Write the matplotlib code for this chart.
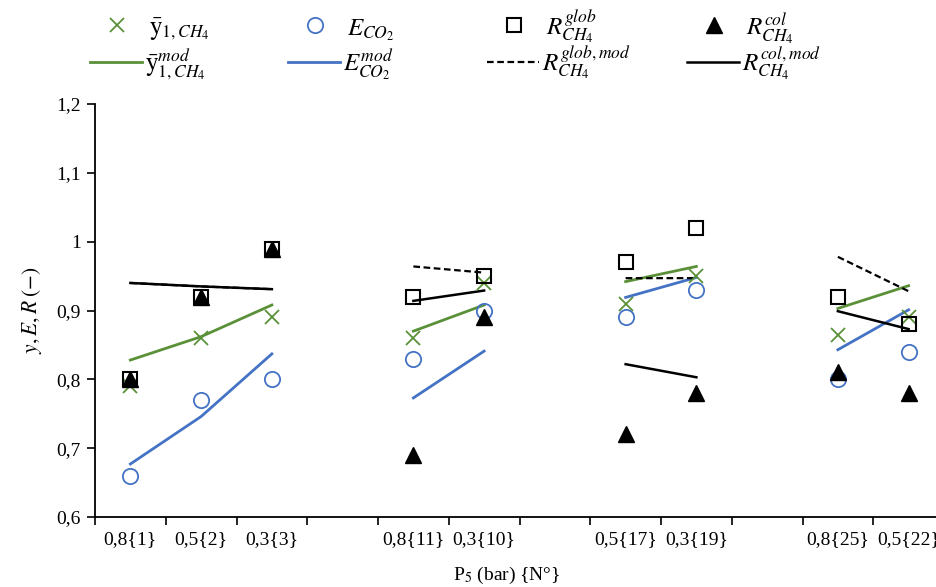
import numpy as np
import matplotlib
matplotlib.use("Agg")
import matplotlib.pyplot as plt
from matplotlib.lines import Line2D

plt.rcParams['font.family'] = ['Liberation Serif', 'DejaVu Serif']
plt.rcParams['mathtext.fontset'] = 'stix'

N = None
categories = ['0,8{1}', '0,5{2}', '0,3{3}', '', '0,8{11}', '0,3{10}', '',
              '0,5{17}', '0,3{19}', '', '0,8{25}', '0,5{22}']

y_exp    = [0.79, 0.86, 0.89, N, 0.86, 0.94, N, 0.91, 0.95, N, 0.865, 0.89]
E_exp    = [0.66, 0.77, 0.80, N, 0.83, 0.90, N, 0.89, 0.93, N, 0.80, 0.84]
Rglob    = [0.80, 0.92, 0.99, N, 0.92, 0.95, N, 0.97, 1.02, N, 0.92, 0.88]
Rcol     = [0.80, 0.92, 0.99, N, 0.69, 0.89, N, 0.72, 0.78, N, 0.81, 0.78]
y_mod    = [0.828, 0.862, 0.908, N, 0.870, 0.908, N, 0.942, 0.964, N, 0.903, 0.936]
E_mod    = [0.677, 0.746, 0.837, N, 0.773, 0.841, N, 0.919, 0.948, N, 0.843, 0.901]
Rglob_mod = [0.940, 0.935, 0.931, N, 0.964, 0.955, N, 0.947, 0.947, N, 0.978, 0.928]
Rcol_mod = [0.940, 0.935, 0.931, N, 0.914, 0.929, N, 0.822, 0.803, N, 0.899, 0.873]

legend_labels_exp = [r'$\mathrm{\bar{y}}_{1,CH_4}$', r'$E_{CO_2}$',
                     r'$R^{glob}_{CH_4}$', r'$R^{col}_{CH_4}$']
legend_labels_mod = [r'$\mathrm{\bar{y}}^{mod}_{1,CH_4}$', r'$E^{mod}_{CO_2}$',
                     r'$R^{glob,mod}_{CH_4}$', r'$R^{col,mod}_{CH_4}$']

def arr(v):
    return np.array([np.nan if a is None else a for a in v], dtype=float)

green = '#5a9138'
blue = '#4472C4'
W, H = 936, 587

fig = plt.figure(figsize=(W / 100, H / 100), dpi=100)
ax = fig.add_axes([95 / W, 70 / H, 849 / W, 413 / H])
x = np.arange(len(categories))

dash = (0, (3, 1.6))
line_styles = [dict(color=green, lw=2.0), dict(color=blue, lw=2.0),
               dict(color='black', lw=1.6, ls=dash), dict(color='black', lw=1.8)]
marker_styles = [dict(marker='x', ms=10, mew=1.3, color=green),
                 dict(marker='o', ms=11, mew=1.3, mfc='none', mec=blue),
                 dict(marker='s', ms=10, mew=1.5, mfc='none', mec='black'),
                 dict(marker='^', ms=11, color='black')]

for vals, st in zip([y_mod, E_mod, Rglob_mod, Rcol_mod], line_styles):
    ax.plot(x, arr(vals), **st)
for vals, st in zip([y_exp, E_exp, Rglob, Rcol], marker_styles):
    ax.plot(x, arr(vals), ls='none', **st)

ax.set_xlim(-0.5, len(categories) - 0.5)
ax.set_ylim(0.6, 1.2)
ax.set_yticks(np.arange(0.6, 1.21, 0.1))
ax.set_yticklabels(['0,6', '0,7', '0,8', '0,9', '1', '1,1', '1,2'], fontsize=14)
ax.set_xticks(np.arange(-0.5, len(categories), 1.0))
ax.set_xticklabels([])
ax.set_xticks(x, minor=True)
ax.set_xticklabels(categories, minor=True, fontsize=14)
ax.tick_params(axis='x', which='major', direction='out', length=6, width=1.2)
ax.tick_params(axis='x', which='minor', length=0, pad=10)
ax.tick_params(axis='y', direction='out', length=6, width=1.2, pad=4)
for s in ['top', 'right']:
    ax.spines[s].set_visible(False)
for s in ['left', 'bottom']:
    ax.spines[s].set_linewidth(1.3)

ax.set_ylabel(r'$y, E, R\;(-)$', fontsize=15.5, labelpad=9)
ax.set_xlabel(r'P$_5$ (bar) {N°}', fontsize=14, labelpad=7)
ax.xaxis.set_label_coords((507 - 95) / 849, -0.115)

# legend (two rows x four columns)
col_start = [90, 288, 487, 687]
marker_y, text1_base = 25, 35
line_y, text2_base = 62, 71
for i, x0 in enumerate(col_start):
    fig.add_artist(Line2D([(x0 + 27) / W], [1 - marker_y / H], ls='none',
                          transform=fig.transFigure, **marker_styles[i]))
    fig.add_artist(Line2D([x0 / W, (x0 + 52) / W], [1 - line_y / H, 1 - line_y / H],
                          transform=fig.transFigure, **line_styles[i]))
    fig.text((x0 + 59) / W, 1 - text1_base / H, legend_labels_exp[i], fontsize=18,
             va='baseline', ha='left')
    fig.text((x0 + 55) / W, 1 - text2_base / H, legend_labels_mod[i], fontsize=18,
             va='baseline', ha='left')

fig.savefig('out.png', dpi=100)
